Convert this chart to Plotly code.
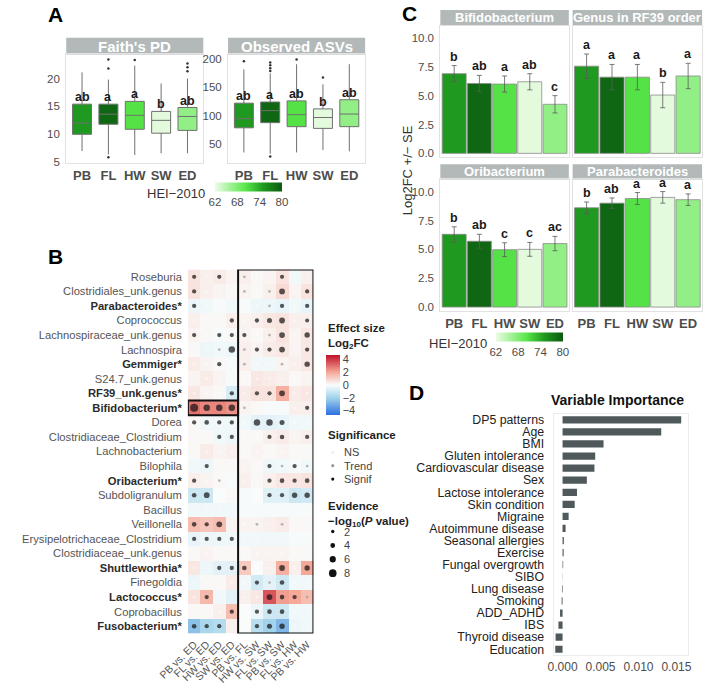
import plotly.graph_objects as go
from plotly.colors import sample_colorscale

W, H = 707, 688
FONT = "Liberation Sans, Arial, Helvetica, sans-serif"


def fx(p):
    return p / W


def fy(p):
    return 1 - p / H


# ---------------- shared groups / HEI colour ----------------
groups = ["PB", "FL", "HW", "SW", "ED"]
hei_2010 = [75.0, 79.0, 70.5, 62.5, 67.0]
hei_ticks = [62, 68, 74, 80]
HEI_MIN, HEI_MAX = 62, 80
HEI_SCALE = [[0.0, "#ecfbe6"], [0.45, "#5ae84a"], [0.72, "#1f9a1f"], [1.0, "#0b5a10"]]

# ---------------- Panel A data (box summaries) ----------------
faith_q1 = [10.0, 11.8, 10.9, 10.2, 10.7]
faith_med = [12.0, 13.6, 13.4, 12.5, 13.2]
faith_q3 = [15.4, 15.4, 15.9, 14.1, 14.8]
faith_lo = [7.0, 6.4, 6.3, 6.6, 6.6]
faith_hi = [21.1, 19.8, 22.3, 19.1, 20.0]
faith_out = [[], [23.4, 21.8, 5.9], [23.3], [], [22.7, 22.0, 21.3]]
faith_letters = ["ab", "a", "a", "b", "ab"]

obs_q1 = [79, 88, 81, 78, 81]
obs_med = [95, 109, 102, 97, 103]
obs_q3 = [122, 124, 126, 112, 128]
obs_lo = [36, 34, 36, 40, 38]
obs_hi = [181, 174, 190, 155, 190]
obs_out = [[195], [193, 188, 183, 178, 29], [198], [167], []]
obs_letters = ["ab", "a", "ab", "b", "ab"]

# ---------------- Panel C data ----------------
c_titles = ["Bifidobacterium", "Genus in RF39 order", "Oribacterium", "Parabacteroides"]
c_mean = [
    [6.9, 6.05, 6.0, 6.2, 4.25],
    [7.55, 6.6, 6.6, 5.05, 6.7],
    [6.3, 5.7, 4.97, 5.0, 5.5],
    [8.6, 9.0, 9.4, 9.5, 9.3],
]
c_se = [
    [0.7, 0.7, 0.7, 0.7, 0.75],
    [1.05, 1.1, 1.1, 1.1, 1.1],
    [0.65, 0.6, 0.6, 0.6, 0.62],
    [0.5, 0.45, 0.52, 0.5, 0.5],
]
c_letters = [
    ["b", "ab", "a", "ab", "c"],
    ["a", "a", "a", "b", "a"],
    ["b", "ab", "c", "c", "ac"],
    ["b", "ab", "a", "a", "a"],
]

# ---------------- Panel B data ----------------
taxa = ["Roseburia", "Clostridiales_unk.genus", "Parabacteroides*", "Coprococcus",
        "Lachnospiraceae_unk.genus", "Lachnospira", "Gemmiger*", "S24.7_unk.genus",
        "RF39_unk.genus*", "Bifidobacterium*", "Dorea", "Clostridiaceae_Clostridium",
        "Lachnobacterium", "Bilophila", "Oribacterium*", "Subdoligranulum", "Bacillus",
        "Veillonella", "Erysipelotrichaceae_Clostridium", "Clostridiaceae_unk.genus",
        "Shuttleworthia*", "Finegoldia", "Lactococcus*", "Coprobacillus", "Fusobacterium*"]
comparisons = ["PB vs. ED", "FL vs. ED", "HW vs. ED", "SW vs. ED", "PB vs. FL",
               "HW vs. SW", "FL vs. SW", "PB vs. SW", "FL vs. HW", "PB vs. HW"]
log2fc = [
    [0.6, 0.3, 0.4, 0.2, 0.3, 0.1, 0.2, 0.6, -0.2, 0.3],
    [0.6, 0.3, 0.2, 0.1, 0.2, 0.1, 0.3, 0.8, 0.2, 0.6],
    [-0.3, -0.2, -0.1, -0.2, -0.1, -0.3, -0.3, -0.4, -0.2, -0.4],
    [0.3, 0.1, 0.1, 0.3, 0.2, 0.3, 0.5, 0.6, 0.3, 0.3],
    [0.2, 0.1, -0.1, 0.1, 0.2, 0.1, 0.3, 0.6, 0.2, 0.5],
    [0.1, -0.3, -0.2, -0.3, 0.3, 0.2, 0.4, 0.5, 0.2, 0.5],
    [0.4, 0.2, 0.1, -0.1, 0.3, -0.2, -0.2, 0.2, 0.3, 0.5],
    [0.2, 0.4, 0.2, -0.1, 0.1, 0.5, 0.4, 0.3, 0.1, 0.2],
    [0.5, 0.2, 0.1, -0.8, 0.4, 0.6, 0.6, 1.8, 0.4, 0.5],
    [3.0, 2.6, 2.6, 2.4, 0.2, 0.1, -0.1, -0.1, 0.3, 0.3],
    [0.1, -0.2, -0.2, -0.2, -0.2, -0.5, -0.5, -0.4, -0.2, -0.2],
    [0.1, 0.1, -0.2, -0.3, 0.1, 0.1, 0.3, 0.4, 0.2, 0.3],
    [0.1, 0.4, 0.2, 0.3, 0.1, 0.2, 0.1, 0.2, 0.1, 0.1],
    [-0.2, -0.3, 0.1, 0.1, 0.2, 0.1, -0.3, -0.2, -0.1, -0.2],
    [0.3, 0.2, 0.1, -0.1, 0.3, 0.1, 0.3, 0.5, 0.5, 0.6],
    [-1.0, -1.0, 0.0, 0.1, -0.1, 0.0, -0.6, -0.6, -1.0, -0.9],
    [-0.2, -0.2, -0.2, -0.2, -0.1, -0.1, -0.1, -0.1, -0.1, -0.1],
    [1.5, 1.3, 1.5, 0.2, 0.2, 0.2, 0.3, 0.4, 0.1, 0.1],
    [-0.4, -0.3, -0.3, -0.2, -0.2, -0.2, -0.2, -0.2, -0.1, -0.1],
    [0.1, 0.2, 0.1, 0.1, 0.1, 0.2, 0.2, 0.2, 0.1, 0.1],
    [0.5, -0.3, -0.5, -0.5, 1.2, 0.0, 0.3, 1.8, 0.3, 2.0],
    [-0.3, 0.1, 0.1, 0.4, -0.2, -0.9, -0.5, -1.0, -0.2, -0.2],
    [0.6, 1.6, -0.2, -0.5, 0.3, 0.5, 3.5, 2.2, 2.0, 1.5],
    [0.1, 0.1, 0.3, 1.5, 0.0, -0.3, -1.0, -1.0, -0.2, -0.2],
    [-2.5, -1.8, -1.6, 0.3, 0.0, -1.5, -2.0, -2.8, -0.3, -0.2],
]
# -log10(P value): < 1 = NS, 1-1.3 = trend, >= 1.3 = significant
neglog10p = [
    [3, .5, 3, .5, 1.1, .5, .5, 3, .5, .5],
    [3, .5, .5, .5, 1.1, .5, 1.1, 5, .5, 3],
    [3, .5, .5, .5, .5, .5, 1.1, 3, .5, 3],
    [.5, .5, .5, 3, .5, 3, 4, 5, .5, 2.5],
    [3, .5, 3, 3, 3, .5, 1.1, 5, .5, 4.5],
    [.5, .5, 1.1, 6, 1.1, 3, 3, 5, .5, 3],
    [.5, .5, 3, .5, 1.1, .5, .5, 1.1, .5, 4.5],
    [.5, .5, .5, .5, .5, .5, .5, .5, .5, .5],
    [.5, .5, .5, 3, .5, 3, 3, 5, .5, .5],
    [8, 6, 6, 6, 1.1, .5, .5, .5, .5, 3],
    [3, 3.5, 3, 3, .5, 6, 6, 4, .5, .5],
    [.5, .5, 3, 3, .5, .5, 3, 3.5, .5, 3],
    [.5, .5, .5, .5, .5, .5, .5, .5, .5, .5],
    [.5, 3, .5, .5, .5, .5, 3, 1.1, 3, 1.1],
    [3, .5, 1.1, .5, .5, .5, 3, 3.5, 3, 3.5],
    [3.5, 5, .5, .5, .5, .5, 3, 3, 4.5, 4.5],
    [.5, .5, .5, .5, .5, .5, .5, .5, .5, .5],
    [3.5, 3, 5, .5, .5, 1.1, .5, 1.1, .5, .5],
    [3, 3, 3, 3, .5, .5, .5, .5, .5, .5],
    [.5, .5, .5, .5, .5, .5, .5, .5, .5, .5],
    [.5, .5, 3, 3, 3.5, .5, .5, 5, .5, 4.5],
    [.5, .5, .5, .5, .5, 3, 1.1, 3.5, .5, .5],
    [.5, 3, .5, .5, .5, .5, 5, 3.5, 3, 1.1],
    [.5, .5, .5, 3, .5, 3, 3.5, 3.5, .5, .5],
    [3.5, 3, 3, .5, .5, 3, 4, 4.5, .5, .5],
]
sig_levels = ["NS", "Trend", "Signif"]
evidence_legend = [2, 4, 6, 8]
effect_ticks = [-4, -2, 0, 2, 4]
highlight_taxon = "Bifidobacterium*"
highlight_cols = comparisons[:4]
boxed_cols = comparisons[4:]

# ---------------- Panel D data ----------------
variables = ["DP5 patterns", "Age", "BMI", "Gluten intolerance", "Cardiovascular disease",
             "Sex", "Lactose intolerance", "Skin condition", "Migraine", "Autoimmune disease",
             "Seasonal allergies", "Exercise", "Fungal overgrowth", "SIBO", "Lung disease",
             "Smoking", "ADD_ADHD", "IBS", "Thyroid disease", "Education"]
importance = [0.01563, 0.0130, 0.0054, 0.0043, 0.0042, 0.0032, 0.0019, 0.0016, 0.0008,
              0.0004, 0.00017, 0.00015, 0.00008, 0.00002, -0.00008, -0.00012, -0.00033,
              -0.00054, -0.00092, -0.00096]

# ====================================================================
fig = go.Figure()
annotations = []
shapes = []

TICK_GREY = "#4d4d4d"
BORDER = "#e2e2e2"
STRIP = "#b3b9b9"

group_colors = sample_colorscale(HEI_SCALE, [(h - HEI_MIN) / (HEI_MAX - HEI_MIN) for h in hei_2010])


def panel_axes(xname, yname, xd, yd, yrange, ytickvals, yfmt=None, show_x=True):
    xa = dict(domain=[fx(xd[0]), fx(xd[1])], range=[-0.55, 4.55], showgrid=False, zeroline=False,
              showline=True, linecolor=BORDER, mirror=True, ticks="",
              tickvals=list(range(5)), ticktext=["<b>%s</b>" % g for g in groups],
              showticklabels=show_x, tickfont=dict(size=13, color=TICK_GREY),
              anchor=yname.replace("axis", ""), fixedrange=True)
    ya = dict(domain=[fy(yd[1]), fy(yd[0])], range=yrange, showgrid=False, zeroline=False,
              showline=True, linecolor=BORDER, mirror=True, ticks="",
              tickvals=ytickvals, tickfont=dict(size=11.5, color=TICK_GREY),
              anchor=xname.replace("axis", ""), ticklabelstandoff=3)
    if yfmt:
        ya["tickformat"] = yfmt
    fig.layout[xname] = xa
    fig.layout[yname] = ya


def strip(x0, x1, y0, y1, text, size):
    shapes.append(dict(type="rect", xref="paper", yref="paper", x0=fx(x0), x1=fx(x1),
                       y0=fy(y1), y1=fy(y0), fillcolor=STRIP, line=dict(width=0), layer="below"))
    annotations.append(dict(xref="paper", yref="paper", x=fx((x0 + x1) / 2), y=fy((y0 + y1) / 2),
                            text="<b>%s</b>" % text, showarrow=False,
                            font=dict(size=size, color="white"), xanchor="center", yanchor="middle"))


# ---------------- Panel A ----------------
A_top, A_bot = 53, 163
panel_axes("xaxis", "yaxis", (37, 181), (A_top, A_bot), [4.8, 24.3], [5, 10, 15, 20])
panel_axes("xaxis2", "yaxis2", (207, 351), (A_top, A_bot), [17, 207], [50, 100, 150, 200])
fig.layout.xaxis.range = [-0.6, 4.6]
fig.layout.xaxis2.range = [-0.6, 4.6]
strip(37, 181, 36, 53, "Faith's PD", 15)
strip(207, 351, 36, 53, "Observed ASVs", 15)

for (xa, ya, q1, med, q3, lo, hi, outs, letters) in [
    ("x", "y", faith_q1, faith_med, faith_q3, faith_lo, faith_hi, faith_out, faith_letters),
    ("x2", "y2", obs_q1, obs_med, obs_q3, obs_lo, obs_hi, obs_out, obs_letters),
]:
    for i in range(5):
        fig.add_trace(go.Box(x=[i], q1=[q1[i]], median=[med[i]], q3=[q3[i]],
                             lowerfence=[lo[i]], upperfence=[hi[i]], fillcolor=group_colors[i],
                             line=dict(color="#707070", width=1), width=0.72, whiskerwidth=0,
                             boxpoints=False, xaxis=xa, yaxis=ya, showlegend=False,
                             hoverinfo="skip"))
        if outs[i]:
            fig.add_trace(go.Scatter(x=[i] * len(outs[i]), y=outs[i], mode="markers",
                                     marker=dict(size=2.5, color="#333333"), xaxis=xa, yaxis=ya,
                                     showlegend=False, hoverinfo="skip"))
        annotations.append(dict(xref=xa, yref=ya, x=i, y=q3[i], text="<b>%s</b>" % letters[i],
                                showarrow=False, yanchor="middle", yshift=7,
                                font=dict(size=12.5, color="#1a1a1a")))

# HEI colour bar for panel A (carried by invisible markers at the medians)
fig.add_trace(go.Scatter(x=list(range(5)), y=faith_med, mode="markers", xaxis="x", yaxis="y",
                         marker=dict(size=1, opacity=0, color=hei_2010, colorscale=HEI_SCALE,
                                     cmin=HEI_MIN, cmax=HEI_MAX, showscale=True,
                                     colorbar=dict(orientation="h", x=fx(228.5), xanchor="center",
                                                   y=fy(192.5), yanchor="middle", len=67,
                                                   lenmode="pixels", thickness=9,
                                                   thicknessmode="pixels", outlinewidth=0,
                                                   tickvals=hei_ticks, ticks="", xpad=0, ypad=0,
                                                   tickfont=dict(size=11.5, color=TICK_GREY))),
                         showlegend=False, hoverinfo="skip"))
annotations.append(dict(xref="paper", yref="paper", x=fx(185), y=fy(193), text="HEI\u22122010",
                        showarrow=False, xanchor="right", yanchor="middle",
                        font=dict(size=13, color="#333333")))

# ---------------- Panel C ----------------
C_rows = [(24, 157), (179.3, 312.3)]
C_cols = [(430, 565), (569, 705)]
C_strips = [(8, 24), (164, 179.3)]
c_axes = [("xaxis3", "yaxis3"), ("xaxis4", "yaxis4"), ("xaxis5", "yaxis5"), ("xaxis6", "yaxis6")]
for k, (xn, yn) in enumerate(c_axes):
    r, c = divmod(k, 2)
    panel_axes(xn, yn, C_cols[c], C_rows[r], [-0.35, 11.05], [0, 2.5, 5, 7.5, 10], ".1f",
               show_x=(r == 1))
    if c == 1:
        fig.layout[yn].showticklabels = False
    strip(C_cols[c][0], C_cols[c][1], C_strips[r][0], C_strips[r][1], c_titles[k], 13)
    xa, ya = xn.replace("axis", ""), yn.replace("axis", "")
    show_cb = (k == 2)
    fig.add_trace(go.Bar(x=list(range(5)), y=c_mean[k], width=0.95, xaxis=xa, yaxis=ya,
                         marker=dict(color=hei_2010, colorscale=HEI_SCALE, cmin=HEI_MIN,
                                     cmax=HEI_MAX, line=dict(color="#8a8a8a", width=0.8),
                                     showscale=show_cb,
                                     colorbar=dict(orientation="h", x=fx(523.5), xanchor="center",
                                                   y=fy(344.5), yanchor="middle", len=67,
                                                   lenmode="pixels", thickness=9,
                                                   thicknessmode="pixels", outlinewidth=0,
                                                   tickvals=hei_ticks, ticks="", xpad=0, ypad=0,
                                                   tickfont=dict(size=11.5, color=TICK_GREY))),
                         error_y=dict(type="data", array=c_se[k], color="#5a5a5a", thickness=0.8,
                                      width=2.5),
                         showlegend=False, hoverinfo="skip"))
    for i in range(5):
        annotations.append(dict(xref=xa, yref=ya, x=i, y=c_mean[k][i] + c_se[k][i],
                                text="<b>%s</b>" % c_letters[k][i], showarrow=False,
                                yanchor="middle", yshift=9, font=dict(size=12.5, color="#1a1a1a")))
annotations.append(dict(xref="paper", yref="paper", x=fx(481), y=fy(345), text="HEI\u22122010",
                        showarrow=False, xanchor="right", yanchor="middle",
                        font=dict(size=13, color="#333333")))
annotations.append(dict(xref="paper", yref="paper", x=fx(395), y=fy(170),
                        text="Log2FC +/\u2212 SE", showarrow=False, textangle=-90,
                        xanchor="center", yanchor="middle", font=dict(size=13, color="#333333")))

# ---------------- Panel B ----------------
B_x0, B_x1, B_y0, B_y1 = 164.8, 296.7, 270.3, 638.0
EFF_MAX = 4.7
EFF_SCALE = [[0.0, "#2c6fe0"], [0.28, "#9fd2ea"], [0.5, "#fafcfc"], [0.72, "#f4a595"],
             [1.0, "#c0102a"]]
ytext = []
for t in taxa:
    if t.endswith("*"):
        ytext.append("<span style='color:#2b2b2b'><b>%s</b></span>" % t)
    else:
        ytext.append(t)
fig.layout["xaxis7"] = dict(domain=[fx(B_x0), fx(B_x1)], range=[-0.5, len(comparisons) - 0.5],
                            showgrid=False, zeroline=False, showline=False, ticks="",
                            tickvals=list(range(len(comparisons))), ticktext=comparisons,
                            tickangle=-45, tickfont=dict(size=10.5, color="#555555"),
                            anchor="y7", ticklabelstandoff=2)
fig.layout["yaxis7"] = dict(domain=[fy(B_y1), fy(B_y0)], range=[len(taxa) - 0.5, -0.5],
                            showgrid=False, zeroline=False, showline=False, ticks="",
                            tickvals=list(range(len(taxa))), ticktext=ytext,
                            tickfont=dict(size=11.2, color="#555555"), anchor="x7",
                            ticklabelstandoff=5)
fig.add_trace(go.Heatmap(z=log2fc, x=list(range(len(comparisons))), y=list(range(len(taxa))),
                         xaxis="x7", yaxis="y7", colorscale=EFF_SCALE, zmin=-EFF_MAX, zmax=EFF_MAX,
                         hoverinfo="skip",
                         colorbar=dict(x=fx(310), xanchor="left", y=fy(387), yanchor="middle",
                                       len=60, lenmode="pixels", thickness=14,
                                       thicknessmode="pixels", outlinewidth=0, xpad=0, ypad=0,
                                       tickvals=effect_ticks,
                                       ticktext=[str(v).replace("-", "\u2212") for v in effect_ticks],
                                       ticks="", tickfont=dict(size=11, color="#444444"))))


def ev_size(ev):
    return 2.0 + 0.75 * ev


def sig_of(ev):
    if ev >= 1.3:
        return "Signif"
    if ev >= 1.0:
        return "Trend"
    return "NS"


SIG_COLOR = {"NS": "rgba(255,255,255,0.8)", "Trend": "#9a9a9a", "Signif": "#111111"}
dx, dy, ds, dc = [], [], [], []
for r in range(len(taxa)):
    for c in range(len(comparisons)):
        ev = neglog10p[r][c]
        dx.append(c)
        dy.append(r)
        ds.append(ev_size(ev))
        dc.append(SIG_COLOR[sig_of(ev)])
fig.add_trace(go.Scatter(x=dx, y=dy, mode="markers", xaxis="x7", yaxis="y7",
                         marker=dict(size=ds, color=dc, line=dict(width=0)),
                         showlegend=False, hoverinfo="skip"))
hr = taxa.index(highlight_taxon)
c_first, c_last = comparisons.index(highlight_cols[0]), comparisons.index(highlight_cols[-1])
shapes.append(dict(type="rect", xref="x7", yref="y7", x0=c_first - 0.5, x1=c_last + 0.5,
                   y0=hr - 0.5, y1=hr + 0.5, line=dict(color="#111111", width=2)))
b_first, b_last = comparisons.index(boxed_cols[0]), comparisons.index(boxed_cols[-1])
shapes.append(dict(type="rect", xref="x7", yref="y7", x0=b_first - 0.5, x1=b_last + 0.5,
                   y0=-0.5, y1=len(taxa) - 0.5, line=dict(color="#111111", width=2)))

# Panel B legends
LEG_X = 310
annotations.append(dict(xref="paper", yref="paper", x=fx(LEG_X), y=fy(321),
                        text="<b>Effect size<br>Log<sub>2</sub>FC</b>", showarrow=False,
                        xanchor="left", yanchor="top", align="left",
                        font=dict(size=11.5, color="#222222")))
annotations.append(dict(xref="paper", yref="paper", x=fx(LEG_X), y=fy(437),
                        text="<b>Significance</b>", showarrow=False, xanchor="left",
                        yanchor="middle", font=dict(size=11.5, color="#222222")))
sig_leg_y = [455, 468.5, 482]
sig_leg_col = {"NS": "#eeeeee", "Trend": "#9a9a9a", "Signif": "#111111"}
for lvl, yy in zip(sig_levels, sig_leg_y):
    d = 3.3
    shapes.append(dict(type="circle", xref="paper", yref="paper", x0=fx(317 - d / 2),
                       x1=fx(317 + d / 2), y0=fy(yy + d / 2), y1=fy(yy - d / 2),
                       fillcolor=sig_leg_col[lvl], line=dict(width=0)))
    annotations.append(dict(xref="paper", yref="paper", x=fx(327), y=fy(yy), text=lvl,
                            showarrow=False, xanchor="left", yanchor="middle",
                            font=dict(size=11, color="#444444")))
annotations.append(dict(xref="paper", yref="paper", x=fx(LEG_X), y=fy(501),
                        text="<b>Evidence<br>\u2212log<sub>10</sub>(<i>P</i> value)</b>",
                        showarrow=False, xanchor="left", yanchor="top", align="left",
                        font=dict(size=11.5, color="#222222")))
for j, ev in enumerate(evidence_legend):
    yy = 535 + 14 * j
    d = ev_size(ev)
    shapes.append(dict(type="circle", xref="paper", yref="paper", x0=fx(317 - d / 2),
                       x1=fx(317 + d / 2), y0=fy(yy + d / 2), y1=fy(yy - d / 2),
                       fillcolor="#111111", line=dict(width=0)))
    annotations.append(dict(xref="paper", yref="paper", x=fx(327), y=fy(yy), text=str(ev),
                            showarrow=False, xanchor="left", yanchor="middle",
                            font=dict(size=11, color="#444444")))

# ---------------- Panel D ----------------
fig.layout["xaxis8"] = dict(domain=[fx(549), fx(690)], range=[-0.00118, 0.0165], showgrid=False,
                            zeroline=False, showline=True, linecolor="#ececec", mirror=True,
                            ticks="", tickvals=[0, 0.005, 0.01, 0.015], tickformat=".3f",
                            tickfont=dict(size=12, color=TICK_GREY), anchor="y8")
fig.layout["yaxis8"] = dict(domain=[fy(660), fy(416)], showgrid=False, zeroline=False,
                            showline=True, linecolor="#ececec", mirror=True, ticks="",
                            categoryorder="array", categoryarray=variables,
                            tickmode="array", tickvals=variables, ticktext=variables,
                            autorange="reversed", tickfont=dict(size=12.3, color="#222222"),
                            anchor="x8", ticklabelstandoff=6)
fig.add_trace(go.Bar(x=importance, y=variables, orientation="h", xaxis="x8", yaxis="y8",
                     marker=dict(color="#4f595b", line=dict(width=0)), width=0.6,
                     showlegend=False, hoverinfo="skip"))
annotations.append(dict(xref="paper", yref="paper", x=fx(616), y=fy(402),
                        text="<b>Variable Importance</b>", showarrow=False, xanchor="center",
                        yanchor="middle", font=dict(size=14, color="#111111")))

# ---------------- panel letters ----------------
for letter, (lx, ly) in zip("ABCD", [(25.8, 12.5), (25.5, 257), (397.5, 11.7), (405.5, 395)]):
    annotations.append(dict(xref="paper", yref="paper", x=fx(lx), y=fy(ly),
                            text="<b>%s</b>" % letter, showarrow=False, xanchor="center",
                            yanchor="middle", font=dict(size=21, color="#000000")))

fig.update_layout(width=W, height=H, autosize=False, margin=dict(l=0, r=0, t=0, b=0),
                  paper_bgcolor="white", plot_bgcolor="white", showlegend=False,
                  font=dict(family=FONT, color="#333333"), annotations=annotations,
                  shapes=shapes)
fig.write_html("out.html", config={"displayModeBar": False, "staticPlot": True},
               post_script="document.body.style.margin='0px';document.body.style.padding='0px';")
